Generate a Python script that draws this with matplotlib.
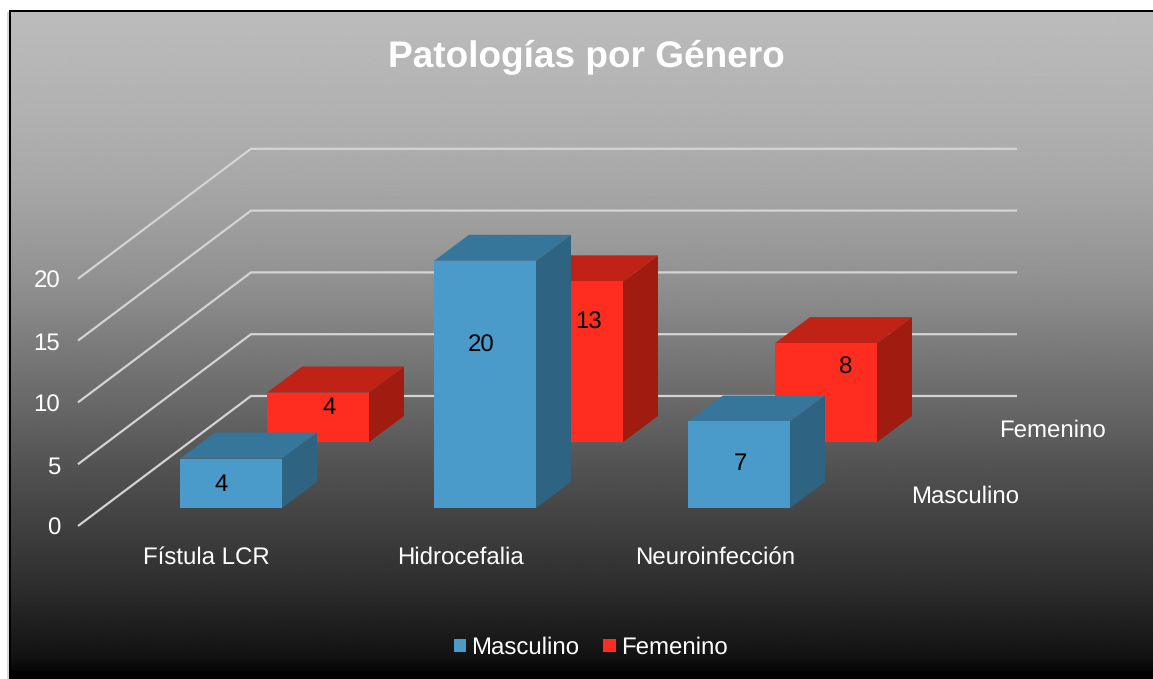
import numpy as np
import matplotlib
matplotlib.use("Agg")
import matplotlib.pyplot as plt
from matplotlib.patches import Polygon, Rectangle

plt.rcParams['font.family'] = ['Liberation Sans', 'DejaVu Sans']
plt.rcParams['text.hinting'] = 'no_hinting'
plt.rcParams['text.hinting_factor'] = 1

# ---- data ----
categories = ["Fístula LCR", "Hidrocefalia", "Neuroinfección"]
masculino = [4, 20, 7]
femenino = [4, 13, 8]
value_ticks = [0, 5, 10, 15, 20]
title = "Patologías por Género"

# ---- layout (pixels of the 1153x679 figure) ----
W, H = 1153, 679
UNIT = 12.36
BAR_W = 102
DX, DY = 35, 26
FRONT_X0, STEP = 180, 254
ROW_DX, ROW_DY = 87, 66
FRONT_BASE = 508
GRID_LEFT_X, GRID_BACK_X, GRID_END_X = 78, 251, 1017
GRID_FRONT_Y0, GRID_BACK_Y0 = 526, 396
FS = 17.2

fig = plt.figure(figsize=(W / 100, H / 100), dpi=100)
ax = fig.add_axes([0, 0, 1, 1])
ax.set_xlim(0, W)
ax.set_ylim(H, 0)
ax.axis('off')
fig.patch.set_facecolor('white')

# background gradient
ys = np.array([0.0, 0.10, 0.25, 0.40, 0.55, 0.70, 0.85, 0.97, 1.0])
vs = np.array([0.735, 0.71, 0.66, 0.57, 0.44, 0.31, 0.19, 0.07, 0.0])
grad = np.interp(np.linspace(0, 1, 660), ys, vs).reshape(-1, 1)
ax.imshow(grad, extent=(11, W, H, 12), cmap='gray', vmin=0, vmax=1,
          aspect='auto', interpolation='bilinear', zorder=0)
ax.set_xlim(0, W)
ax.set_ylim(H, 0)

# frame
ax.add_patch(Rectangle((7, 12), 2, H - 12, fc='#d8d8d8', ec='none', zorder=0.5))
ax.add_patch(Rectangle((9, 10), 2.2, H - 10, fc='black', ec='none', zorder=1))
ax.add_patch(Rectangle((9, 10), W - 9, 2.2, fc='black', ec='none', zorder=1))
ax.add_patch(Rectangle((11, 671), W - 11, 8, fc='black', ec='none', zorder=1))

# gridlines and value ticks
for v in value_ticks:
    off = v * UNIT
    ax.plot([GRID_LEFT_X, GRID_BACK_X, GRID_END_X],
            [GRID_FRONT_Y0 - off, GRID_BACK_Y0 - off, GRID_BACK_Y0 - off],
            color='#d4d4d4', lw=1.6, zorder=2, solid_joinstyle='miter',
            solid_capstyle='butt')
    ax.text(60, GRID_FRONT_Y0 - off + 3, str(v), color='white', fontsize=FS,
            ha='right', va='center', zorder=6)


def box(x0, base, value, front, top, side, z):
    x1 = x0 + BAR_W
    ytop = base - value * UNIT
    ax.add_patch(Polygon([(x0, ytop), (x1, ytop), (x1 + DX, ytop - DY), (x0 + DX, ytop - DY)],
                         fc=top, ec='none', zorder=z))
    ax.add_patch(Polygon([(x1, ytop), (x1 + DX, ytop - DY), (x1 + DX, base - DY), (x1, base)],
                         fc=side, ec='none', zorder=z))
    ax.add_patch(Rectangle((x0, ytop), BAR_W, value * UNIT, fc=front, ec='none', zorder=z + 0.1))


label_fem = [(329, 408), (589, 323), (846, 368)]
label_mas = [(221, 485), (481, 346), (740, 464)]

for i, v in enumerate(femenino):
    box(FRONT_X0 + i * STEP + ROW_DX, FRONT_BASE - ROW_DY, v,
        '#fe2d1f', '#c02316', '#a01b10', 3)
    ax.text(*label_fem[i], str(v), color='black', fontsize=FS, ha='center', va='center', zorder=3.5)
for i, v in enumerate(masculino):
    box(FRONT_X0 + i * STEP, FRONT_BASE, v,
        '#4a9aca', '#37769b', '#2e6382', 4)
    ax.text(*label_mas[i], str(v), color='black', fontsize=FS, ha='center', va='center', zorder=4.5)

# category labels
for x, c in zip([206, 460, 715], categories):
    ax.text(x, 558, c, color='white', fontsize=FS, ha='center', va='center', zorder=6)

# series (depth axis) labels
ax.text(1052, 431, "Femenino", color='white', fontsize=FS, ha='center', va='center', zorder=6)
ax.text(965, 497, "Masculino", color='white', fontsize=FS, ha='center', va='center', zorder=6)

# title
ax.text(586, 57, title, color='white', fontsize=26.7, fontweight='bold',
        ha='center', va='center', zorder=6)

# legend
ax.add_patch(Rectangle((454, 639), 12, 13, fc='#4a9aca', ec='none', zorder=6))
ax.text(471, 648, "Masculino", color='white', fontsize=FS, ha='left', va='center', zorder=6)
ax.add_patch(Rectangle((603, 639), 13, 13, fc='#fe2d1f', ec='none', zorder=6))
ax.text(621, 648, "Femenino", color='white', fontsize=FS, ha='left', va='center', zorder=6)

fig.savefig('out.png', dpi=100, facecolor='white')
